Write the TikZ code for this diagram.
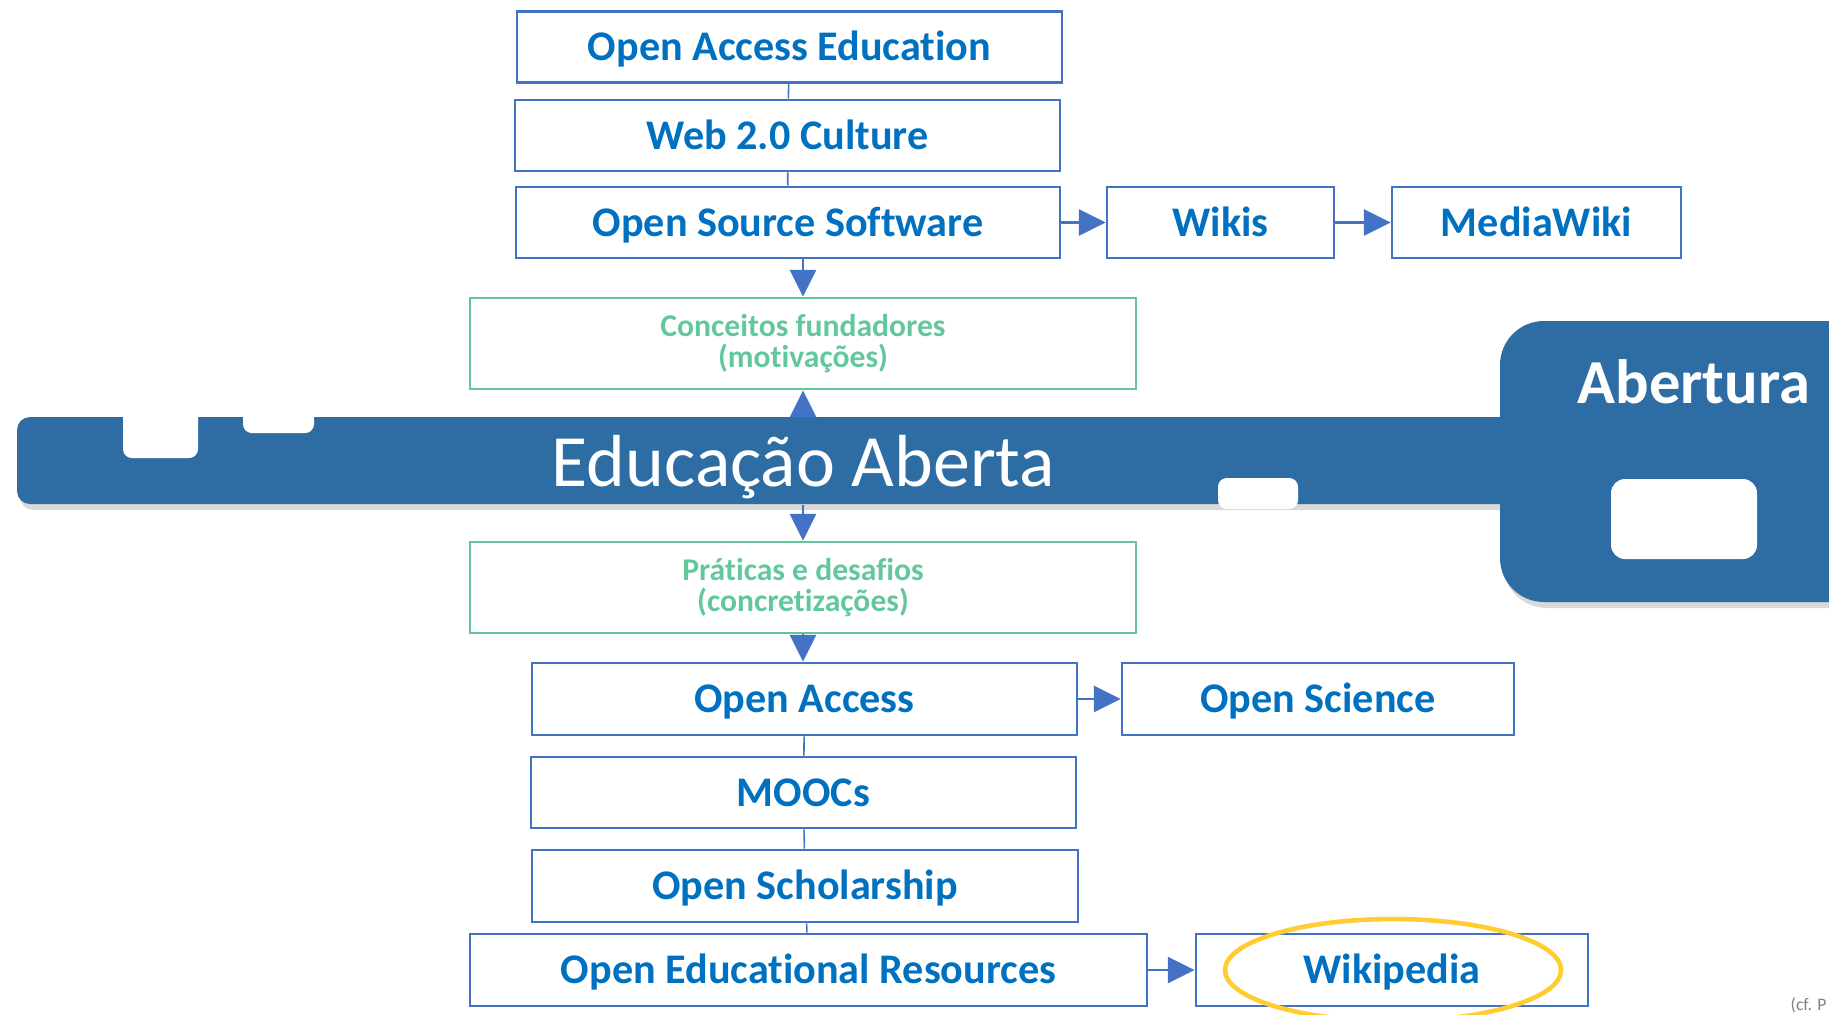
\documentclass[tikz,border=0pt]{standalone}
\usepackage{fontspec}
\setmainfont{Carlito}[Ligatures={NoCommon,NoContextual}]
\usetikzlibrary{arrows.meta,shadows}
\definecolor{boxblue}{RGB}{68,114,196}
\definecolor{txtblue}{RGB}{0,112,192}
\definecolor{mint}{RGB}{98,200,155}
\definecolor{barblue}{RGB}{46,109,164}
\definecolor{marker}{RGB}{255,204,50}

\begin{document}
\begin{tikzpicture}[x=0.1mm, y=-0.1mm,
    topic/.style={draw=boxblue, line width=0.8pt, minimum height=7.1mm, inner sep=0pt,
        text=txtblue, font=\bfseries\fontsize{12}{14}\selectfont, text height=7.7pt, text depth=0pt},
    phase/.style={draw=mint, line width=0.8pt, minimum width=66.6mm, minimum height=9.1mm,
        inner sep=0pt, text=mint, align=center, font=\bfseries\fontsize{9}{8.9}\selectfont},
    band/.style={fill=barblue, inner sep=0pt,
        drop shadow={shadow xshift=0.3mm, shadow yshift=-0.6mm, opacity=0.3}},
    hole/.style={fill=white, rounded corners=2.5pt},
    link/.style={draw=boxblue, line width=0.45pt},
    flow/.style={draw=boxblue, line width=0.7pt, -{Triangle[length=7.6pt,width=7.4pt]}},
]
    \useasboundingbox (0,0) rectangle (1829,1014);

    \node[band, rounded corners=3.7pt, minimum width=151.3mm, minimum height=8.7mm] (bar) at (773.5,460.5) {};
    \node[band, rounded corners=12.5pt, minimum width=40mm, minimum height=28.1mm] (open) at (1700,461.5) {};
    \fill[hole] (123,400) rectangle (198,458);
    \fill[hole] (243,400) rectangle (314,433);
    \fill[hole] (1218,478) rectangle (1298,509);
    \fill[hole, rounded corners=4pt] (1611,479) rectangle (1757,559);
    \node[anchor=base, inner sep=0pt, text=white, font=\fontsize{21}{25}\selectfont] (edu) at (803.5,486) {Educação Aberta};
    \node[anchor=base west, inner sep=0pt, text=white, font=\bfseries\fontsize{17.8}{21}\selectfont] (abt) at (1577,403) {Abertura};

    \node[topic, minimum width=54.5mm] (oae) at (789.5,47) {Open Access Education};
    \node[topic, minimum width=54.5mm] (web) at (787.5,135.5) {Web 2.0 Culture};
    \node[topic, minimum width=54.4mm] (oss) at (788,222.5) {Open Source Software};
    \node[topic, minimum width=22.7mm] (wikis) at (1220.5,222.5) {Wikis};
    \node[topic, minimum width=28.9mm] (mw) at (1536.5,222.5) {MediaWiki};
    \node[phase] (found) at (803,343.5) {Conceitos fundadores\\(motivações)};
    \node[phase] (pract) at (803,587.5) {Práticas e desafios\\(concretizações)};
    \node[topic, minimum width=54.5mm, minimum height=7.2mm] (oa) at (804.5,699) {Open Access};
    \node[topic, minimum width=39.2mm, minimum height=7.2mm] (osci) at (1318,699) {Open Science};
    \node[topic, minimum width=54.5mm] (moocs) at (803.5,792.5) {MOOCs};
    \node[topic, minimum width=54.6mm, minimum height=7.2mm] (schol) at (805,886) {Open Scholarship};
    \node[topic, minimum width=67.7mm, minimum height=7.2mm] (oer) at (808.5,970) {Open Educational Resources};
    \node[topic, minimum width=39.2mm, minimum height=7.2mm] (wp) at (1392,970) {Wikipedia};

    \draw[link] (oae) -- (web);
    \draw[link] (web) -- (oss);
    \draw[link] (oa) -- (moocs);
    \draw[link] (moocs) -- (schol);
    \draw[link] (schol) -- (oer);

    \draw[flow] (found.north |- oss.south) -- (found.north);
    \draw[flow] (bar.north -| found.south) -- (found.south);
    \draw[flow] (bar.south -| pract.north) -- (pract.north);
    \draw[flow] (pract.south) -- (pract.south |- oa.north);
    \draw[flow] (oss) -- (wikis);
    \draw[flow] (wikis) -- (mw);
    \draw[flow] (oa) -- (osci);
    \draw[flow] (oer) -- (wp);

    \draw[marker, line width=1.3pt] (1393,970) ellipse [x radius=168, y radius=51];
    \node[anchor=base west, inner sep=0pt, text=gray, font=\fontsize{5}{6}\selectfont] (cite) at (1790,1010) {(cf. P};
\end{tikzpicture}
\end{document}
